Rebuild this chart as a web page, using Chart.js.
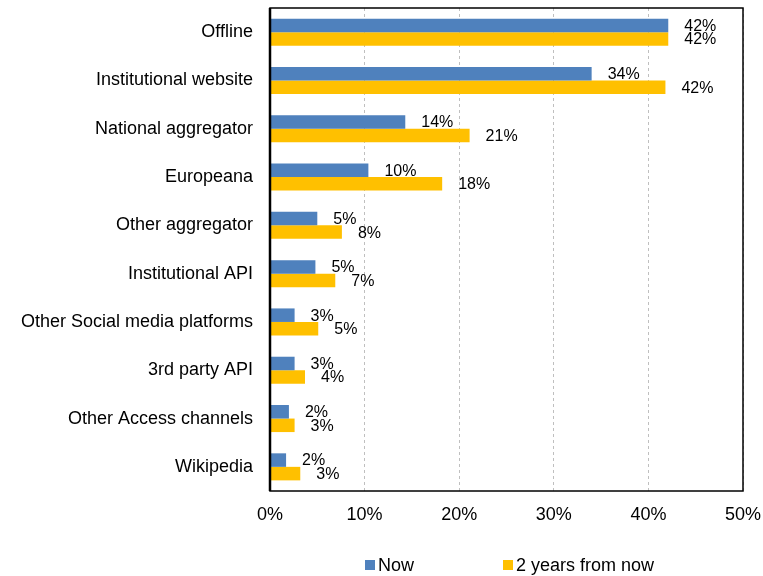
<!DOCTYPE html>
<html>
<head>
<meta charset="utf-8">
<script src="https://cdn.jsdelivr.net/npm/chart.js@4/dist/chart.umd.min.js"></script>
<style>
  html, body { margin: 0; padding: 0; background: #fff; }
  #wrap { width: 763px; height: 576px; }
</style>
</head>
<body>
<div id="wrap"><canvas id="accessChart" width="763" height="576"></canvas></div>
<script>
const categories = [
    "Offline", "Institutional website", "National aggregator", "Europeana",
    "Other aggregator", "Institutional API", "Other Social media platforms",
    "3rd party API", "Other Access channels", "Wikipedia"
];
const nowValues = [42.1, 34.0, 14.3, 10.4, 5.0, 4.8, 2.6, 2.6, 2.0, 1.7];
const laterValues = [42.1, 41.8, 21.1, 18.2, 7.6, 6.9, 5.1, 3.7, 2.6, 3.2];
const seriesNames = ["Now", "2 years from now"];
const xTicks = [0, 10, 20, 30, 40, 50];

const FONT = "'Liberation Sans', Arial, sans-serif";
const BLUE = '#4F81BD';
const GOLD = '#FFC000';

// value labels next to each bar end
const barLabels = {
    id: 'barLabels',
    afterDatasetsDraw(chart) {
        const ctx = chart.ctx;
        ctx.save();
        ctx.font = '16px ' + FONT;
        ctx.fillStyle = '#000';
        ctx.textAlign = 'left';
        ctx.textBaseline = 'middle';
        chart.data.datasets.forEach((ds, i) => {
            chart.getDatasetMeta(i).data.forEach((bar, j) => {
                ctx.fillText(Math.round(ds.data[j]) + '%', bar.x + 16, bar.y + 1);
            });
        });
        ctx.restore();
    }
};

// black frame round the plot area
const plotFrame = {
    id: 'plotFrame',
    afterDraw(chart) {
        const { ctx, chartArea: a } = chart;
        ctx.save();
        ctx.strokeStyle = '#000';
        ctx.lineWidth = 1.5;
        ctx.strokeRect(a.left, a.top, a.right - a.left, a.bottom - a.top);
        ctx.lineWidth = 2.5;
        ctx.beginPath();
        ctx.moveTo(a.left, a.top);
        ctx.lineTo(a.left, a.bottom);
        ctx.stroke();
        ctx.restore();
    }
};

// legend under the axis, drawn by hand for the tight box/text spacing
const bottomLegend = {
    id: 'bottomLegend',
    afterDraw(chart) {
        const ctx = chart.ctx;
        const starts = [365, 503];
        const y = 565;
        ctx.save();
        ctx.font = '18px ' + FONT;
        ctx.textBaseline = 'middle';
        ctx.textAlign = 'left';
        chart.data.datasets.forEach((ds, i) => {
            ctx.fillStyle = ds.backgroundColor;
            ctx.fillRect(starts[i], y - 5, 10, 10);
            ctx.fillStyle = '#000';
            ctx.fillText(ds.label, starts[i] + 13, y + 1);
        });
        ctx.restore();
    }
};

new Chart(document.getElementById('accessChart'), {
    type: 'bar',
    data: {
        labels: categories,
        datasets: [
            { label: seriesNames[0], data: nowValues, backgroundColor: BLUE },
            { label: seriesNames[1], data: laterValues, backgroundColor: GOLD }
        ]
    },
    options: {
        indexAxis: 'y',
        responsive: false,
        animation: false,
        categoryPercentage: 0.56,
        barPercentage: 1.0,
        layout: { padding: { top: 8, right: 20, bottom: 40, left: 0 } },
        plugins: {
            legend: { display: false },
            tooltip: { enabled: false }
        },
        scales: {
            x: {
                min: 0,
                max: 50,
                afterBuildTicks: (scale) => { scale.ticks = xTicks.map(v => ({ value: v })); },
                afterFit: (scale) => {
                    scale.height = 45;
                    scale.paddingLeft = 0;
                    scale.paddingRight = 0;
                },
                ticks: {
                    callback: (v) => v + '%',
                    font: { family: FONT, size: 18 },
                    color: '#000',
                    padding: 13
                },
                grid: {
                    color: '#BFBFBF',
                    lineWidth: 1,
                    drawTicks: false
                },
                border: { display: false, dash: [3, 3] }
            },
            y: {
                afterFit: (scale) => {
                    scale.width = 270;
                    scale.paddingTop = 0;
                    scale.paddingBottom = 0;
                },
                ticks: {
                    font: { family: FONT, size: 18 },
                    color: '#000',
                    padding: 17
                },
                grid: { display: false, drawTicks: false },
                border: { display: false }
            }
        }
    },
    plugins: [barLabels, plotFrame, bottomLegend]
});
</script>
</body>
</html>
